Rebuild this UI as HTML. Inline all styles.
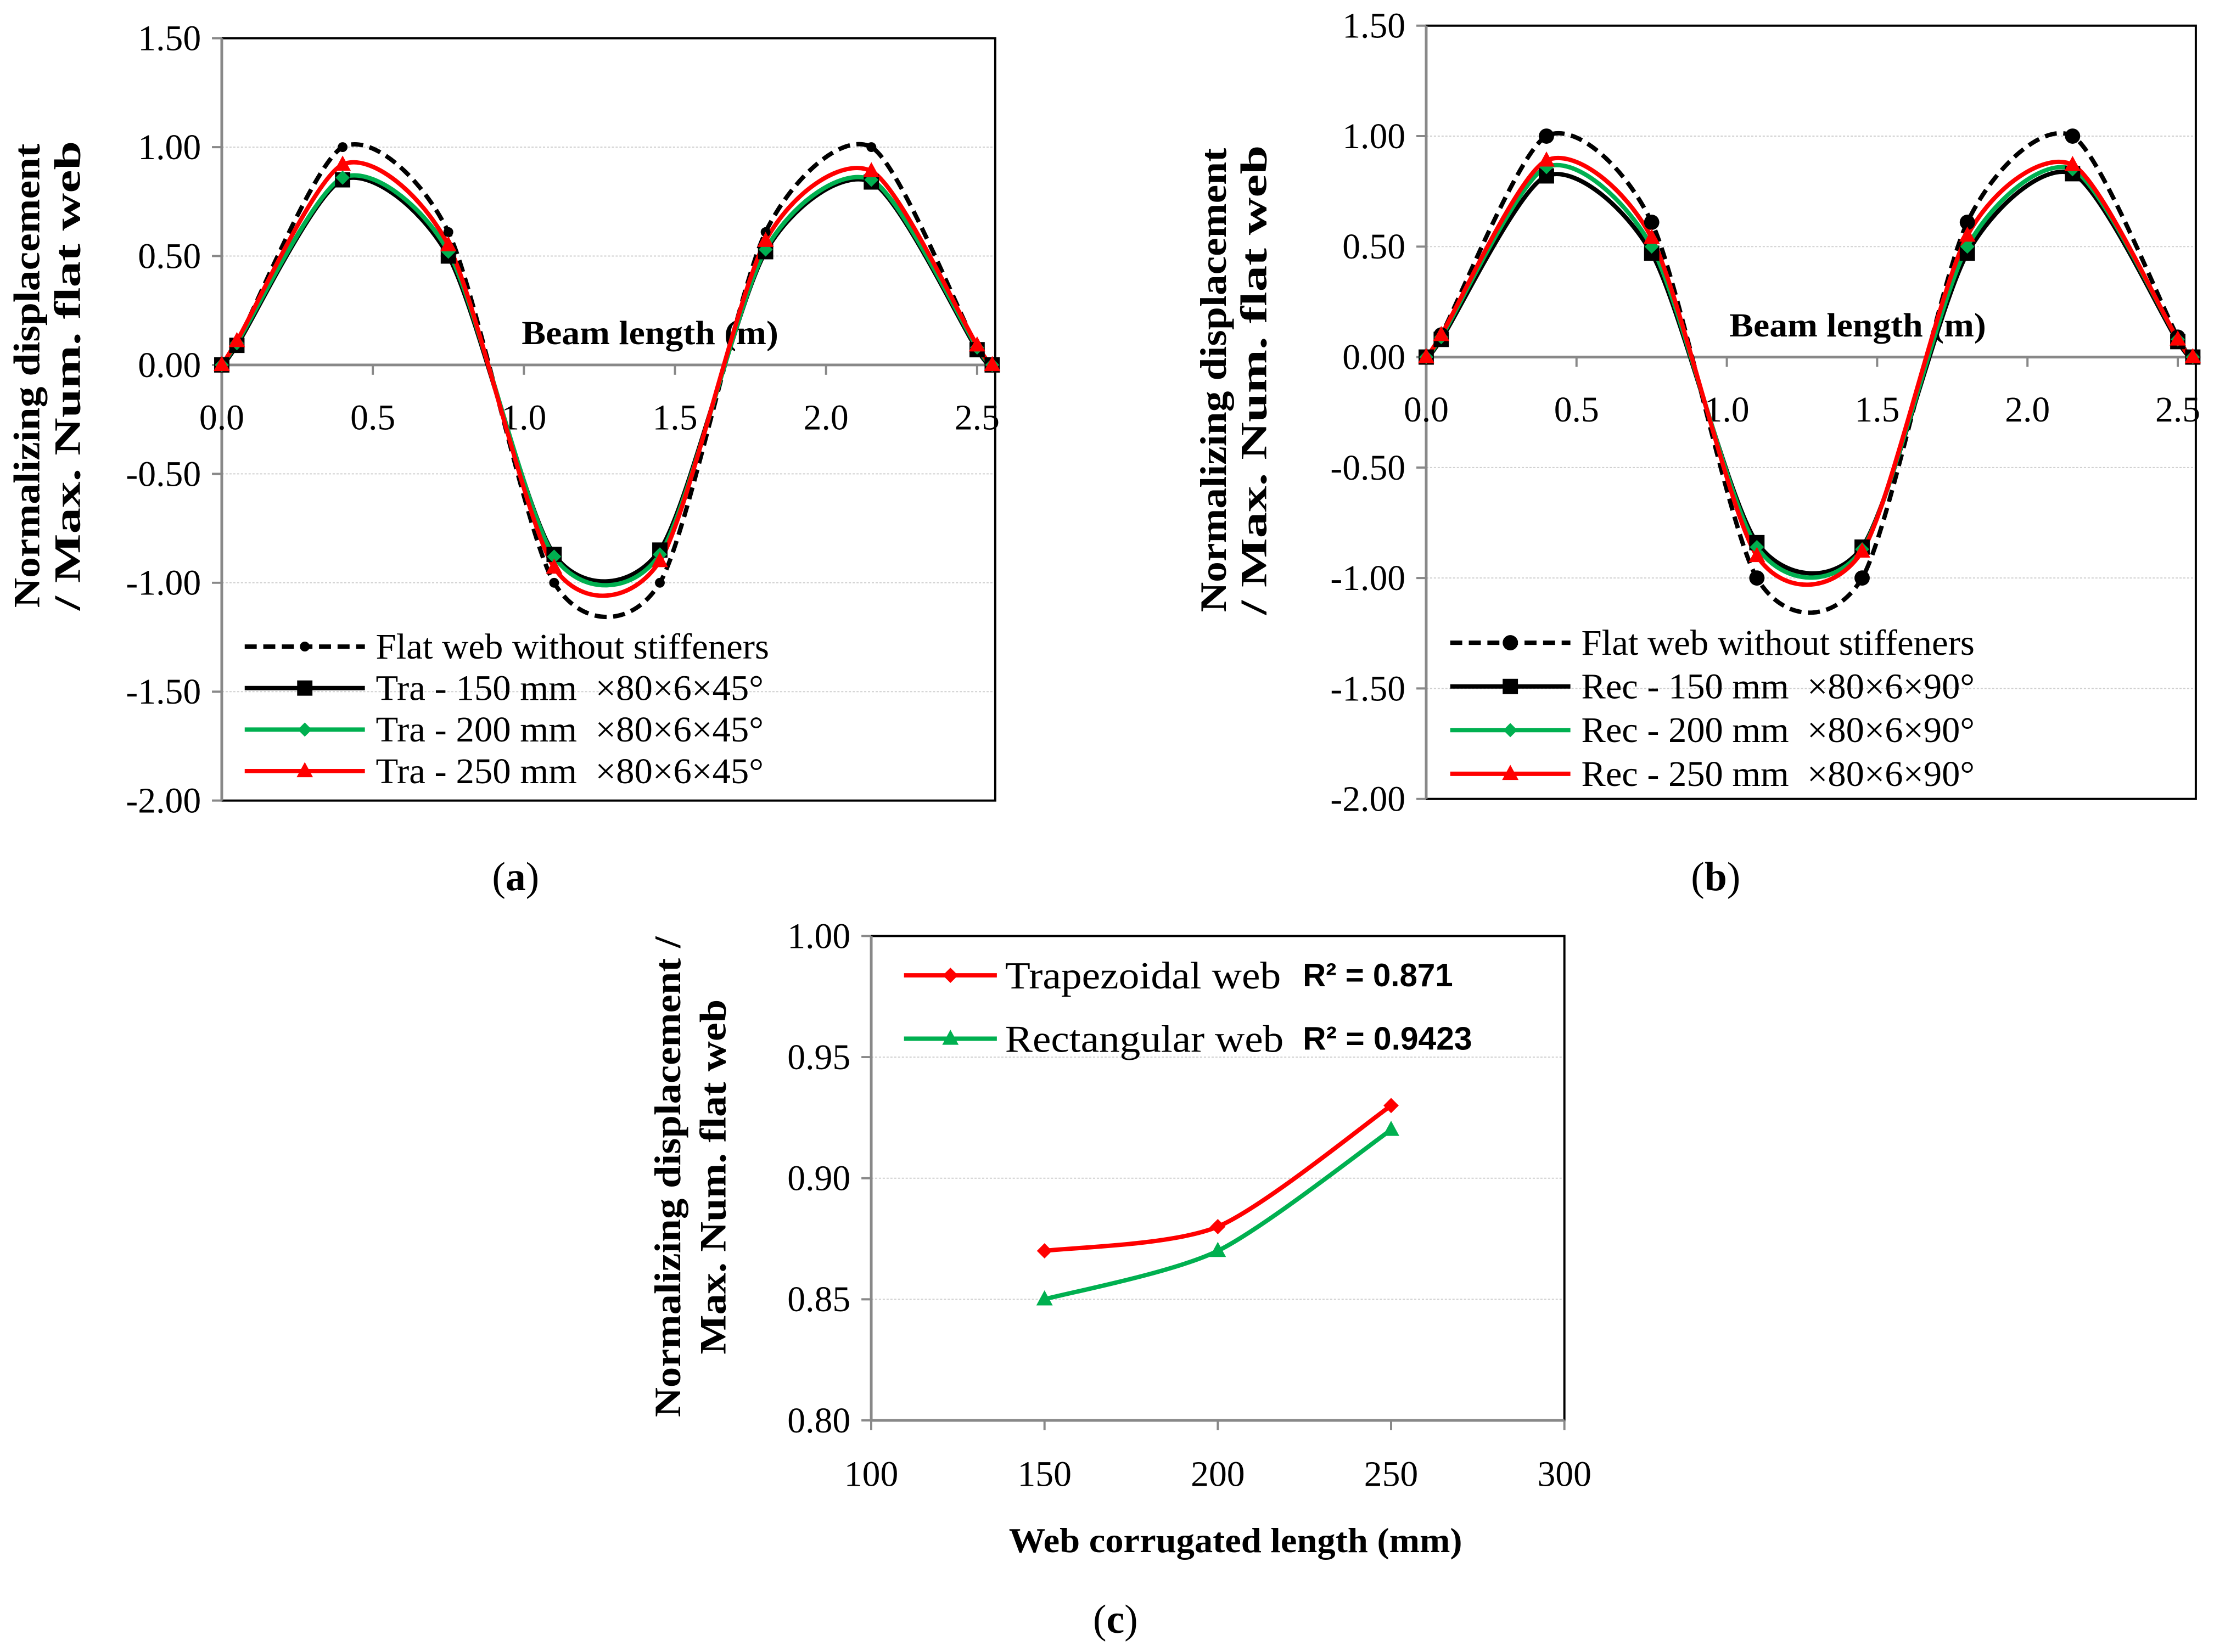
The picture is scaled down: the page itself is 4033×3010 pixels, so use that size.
<!DOCTYPE html>
<html><head><meta charset="utf-8"><style>
html,body{margin:0;padding:0;background:#fff}
svg{display:block}
text{font-family:"Liberation Serif",serif;fill:#000;white-space:pre}
.b{font-weight:bold}
</style></head><body>
<svg id="svg" width="4033" height="3010" viewBox="0 0 4033 3010" xmlns="http://www.w3.org/2000/svg"><g id="root" transform="scale(0.995)"></g></svg>
<script>
// ---- Data ----
const beamX = [0, 0.05, 0.4, 0.75, 1.1, 1.45, 1.8, 2.15, 2.5, 2.55];
const flatA = [0, 0.10, 1.00, 0.61, -1.00, -1.00, 0.61, 1.00, 0.08, 0];
const tra150 = [0, 0.09, 0.85, 0.50, -0.87, -0.85, 0.52, 0.84, 0.07, 0];
const tra200 = [0, 0.10, 0.86, 0.52, -0.88, -0.87, 0.53, 0.85, 0.08, 0];
const tra250 = [0, 0.11, 0.92, 0.55, -0.93, -0.90, 0.57, 0.89, 0.09, 0];
const flatB = [0, 0.10, 1.00, 0.61, -1.00, -1.00, 0.61, 1.00, 0.09, 0];
const rec150 = [0, 0.08, 0.82, 0.47, -0.84, -0.86, 0.47, 0.83, 0.07, 0];
const rec200 = [0, 0.09, 0.86, 0.50, -0.86, -0.87, 0.50, 0.85, 0.08, 0];
const rec250 = [0, 0.10, 0.89, 0.54, -0.90, -0.88, 0.55, 0.87, 0.08, 0];
const sineYTicks = [1.5, 1.0, 0.5, 0, -0.5, -1.0, -1.5, -2.0];
const sineXTicks = [0, 0.5, 1.0, 1.5, 2.0, 2.5];
const lenX = [150, 200, 250];
const trapVals = [0.87, 0.88, 0.93];
const rectVals = [0.85, 0.87, 0.92];
const cYTicks = [1.00, 0.95, 0.90, 0.85, 0.80];
const cXTicks = [100, 150, 200, 250, 300];

const NS = "http://www.w3.org/2000/svg";
const root = document.getElementById('root');
function mk(tag, attrs, parent, txt){
  const e = document.createElementNS(NS, tag);
  for (const k in attrs) e.setAttribute(k, attrs[k]);
  if (txt !== undefined) e.textContent = txt;
  (parent || root).appendChild(e);
  return e;
}
const K = 0.13;
function smoothPath(pts){
  let d = 'M' + pts[0][0] + ',' + pts[0][1];
  for (let i = 0; i < pts.length - 1; i++){
    const p0 = pts[Math.max(0, i-1)], p1 = pts[i], p2 = pts[i+1], p3 = pts[Math.min(pts.length-1, i+2)];
    const c1x = p1[0] + (p2[0]-p0[0])*K, c1y = p1[1] + (p2[1]-p0[1])*K;
    const c2x = p2[0] - (p3[0]-p1[0])*K, c2y = p2[1] - (p3[1]-p1[1])*K;
    d += ' C' + c1x + ',' + c1y + ' ' + c2x + ',' + c2y + ' ' + p2[0] + ',' + p2[1];
  }
  return d;
}
function marker(g, type, x, y, color, s){
  let e;
  if (type === 'circle') e = mk('circle', {cx:x, cy:y, r:s, fill:color}, g);
  else if (type === 'square') e = mk('rect', {x:x-s, y:y-s, width:2*s, height:2*s, fill:color}, g);
  else if (type === 'diamond') e = mk('polygon', {points:`${x},${y-s} ${x+s},${y} ${x},${y+s} ${x-s},${y}`, fill:color}, g);
  else e = mk('polygon', {points:`${x},${y-s*1.1} ${x+s},${y+s*0.75} ${x-s},${y+s*0.75}`, fill:color}, g);
  
  
}

function sineChart(o){
  const g = mk('g', {});  
  const xS = v => o.L + (v - 0) * (o.R - o.L) / (o.xmax - 0);
  const yS = v => o.T + (1.5 - v) * (o.B - o.T) / 3.5;
  sineYTicks.forEach(t => {
    if (t === 0 || t === 1.5 || t === -2) return;
    const l = mk('line', {x1:o.L, x2:o.R, y1:yS(t), y2:yS(t), stroke:'#cfcfcf', 'stroke-width':2, 'stroke-dasharray':'4,3'}, g);
     
  });
  mk('rect', {x:o.L, y:o.T, width:o.R-o.L, height:o.B-o.T, fill:'none', stroke:'#000', 'stroke-width':4}, g);
  mk('line', {x1:o.L, x2:o.L, y1:o.T, y2:o.B, stroke:'#888', 'stroke-width':5}, g);
  mk('line', {x1:o.L, x2:o.R, y1:yS(0), y2:yS(0), stroke:'#888', 'stroke-width':5}, g);
  sineYTicks.forEach(t => {
    mk('line', {x1:o.L-18, x2:o.L, y1:yS(t), y2:yS(t), stroke:'#888', 'stroke-width':4}, g);
    const tx = mk('text', {x:o.L-38, y:yS(t)+22, 'font-size':66, 'text-anchor':'end'}, g, t.toFixed(2));
     
  });
  sineXTicks.forEach(t => {
    mk('line', {x1:xS(t), x2:xS(t), y1:yS(0), y2:yS(0)+18, stroke:'#888', 'stroke-width':4}, g);
    const tx = mk('text', {x:xS(t), y:yS(0)+118, 'font-size':66, 'text-anchor':'middle'}, g, t.toFixed(1));
     
  });
  const xt = mk('text', {x:o.btx, y:yS(0)-38, 'font-size':62, class:'b', textLength:470, lengthAdjust:'spacingAndGlyphs'}, g, 'Beam length (m)');
   
  const cy = o.tcy;
  const yt = mk('text', {transform:`translate(${o.ytx},${cy}) rotate(-90)`, 'font-size':68, class:'b', 'text-anchor':'middle', textLength:850, lengthAdjust:'spacingAndGlyphs'}, g, 'Normalizing displacement');
   
  const yt2 = mk('text', {transform:`translate(${o.ytx+74},${cy}) rotate(-90)`, 'font-size':68, class:'b', 'text-anchor':'middle', textLength:860, lengthAdjust:'spacingAndGlyphs'}, g, '/ Max. Num. flat web');
   
  o.series.forEach(s => {
    const pts = beamX.map((x, i) => [xS(x), yS(s.vals[i])]);
    const p = mk('path', {d:smoothPath(pts), fill:'none', stroke:s.color, 'stroke-width':8, 'stroke-dasharray':s.dash || 'none'}, g);
     
  });
  o.series.forEach(s => {
    beamX.forEach((x, i) => marker(g, s.mk, xS(x), yS(s.vals[i]), s.color, s.ms));
  });
  o.series.forEach((s, i) => {
    const ly = o.legY + i * o.legDy;
    const lg = mk('g', {}, g);  
    mk('line', {x1:o.legX, x2:o.legX+220, y1:ly, y2:ly, stroke:s.color, 'stroke-width':8, 'stroke-dasharray':s.dash || 'none'}, lg);
    marker(lg, s.mk, o.legX+110, ly, s.color, s.ms);
    mk('text', {x:o.legX+240, y:ly+22, 'font-size':66, textLength:s.tl, lengthAdjust:'spacingAndGlyphs'}, lg, s.label);
  });
  const cap = mk('text', {x:o.capX, y:1630, 'font-size':74, 'text-anchor':'middle'}, g);
   
  cap.innerHTML = '(<tspan class="b">' + o.cap + '</tspan>)';
}

sineChart({name:'chart-a', L:406, R:1822, T:70, B:1466, xmax:2.56, btx:955, ytx:72, tcy:688, legX:448, legY:1184, legDy:76, capX:944, cap:'a',
  series:[
    {id:'flat', vals:flatA, color:'#000', dash:'22,12', mk:'circle', ms:9, label:'Flat web without stiffeners', tl:720},
    {id:'tra150', vals:tra150, color:'#000', mk:'square', ms:14, label:'Tra - 150 mm\u00a0\u00a0×80×6×45°', tl:710},
    {id:'tra200', vals:tra200, color:'#00b050', mk:'diamond', ms:13, label:'Tra - 200 mm\u00a0\u00a0×80×6×45°', tl:710},
    {id:'tra250', vals:tra250, color:'#ff0000', mk:'triangle', ms:15, label:'Tra - 250 mm\u00a0\u00a0×80×6×45°', tl:710}
  ]});
sineChart({name:'chart-b', L:2611, R:4020, T:47, B:1463, xmax:2.56, btx:3166, ytx:2244, tcy:696, legX:2655, legY:1177, legDy:80, capX:3141, cap:'b',
  series:[
    {id:'flat', vals:flatB, color:'#000', dash:'22,12', mk:'circle', ms:14, label:'Flat web without stiffeners', tl:720},
    {id:'rec150', vals:rec150, color:'#000', mk:'square', ms:14, label:'Rec - 150 mm\u00a0\u00a0×80×6×90°', tl:720},
    {id:'rec200', vals:rec200, color:'#00b050', mk:'diamond', ms:13, label:'Rec - 200 mm\u00a0\u00a0×80×6×90°', tl:720},
    {id:'rec250', vals:rec250, color:'#ff0000', mk:'triangle', ms:15, label:'Rec - 250 mm\u00a0\u00a0×80×6×90°', tl:720}
  ]});

(function(){
  const L = 1595, R = 2864, T = 1714, B = 2601;
  const g = mk('g', {});  
  const xS = v => L + (v - 100) * (R - L) / 200;
  const yS = v => T + (1.0 - v) * (B - T) / 0.2;
  cYTicks.forEach(t => {
    if (t === 1.0 || t === 0.8) return;
    mk('line', {x1:L, x2:R, y1:yS(t), y2:yS(t), stroke:'#cfcfcf', 'stroke-width':2, 'stroke-dasharray':'4,3'}, g);
  });
  mk('rect', {x:L, y:T, width:R-L, height:B-T, fill:'none', stroke:'#000', 'stroke-width':4}, g);
  mk('line', {x1:L, x2:L, y1:T, y2:B, stroke:'#888', 'stroke-width':5}, g);
  mk('line', {x1:L, x2:R, y1:B, y2:B, stroke:'#888', 'stroke-width':5}, g);
  cYTicks.forEach(t => {
    mk('line', {x1:L-18, x2:L, y1:yS(t), y2:yS(t), stroke:'#888', 'stroke-width':4}, g);
    const tx = mk('text', {x:L-38, y:yS(t)+22, 'font-size':66, 'text-anchor':'end'}, g, t.toFixed(2));
     
  });
  cXTicks.forEach(t => {
    mk('line', {x1:xS(t), x2:xS(t), y1:B, y2:B+18, stroke:'#888', 'stroke-width':4}, g);
    const tx = mk('text', {x:xS(t), y:B+120, 'font-size':66, 'text-anchor':'middle'}, g, String(t));
     
  });
  const xt = mk('text', {x:2262, y:2842, 'font-size':64, class:'b', 'text-anchor':'middle', textLength:830, lengthAdjust:'spacingAndGlyphs'}, g, 'Web corrugated length (mm)');
   
  const yt = mk('text', {transform:'translate(1245,2155) rotate(-90)', 'font-size':68, class:'b', 'text-anchor':'middle', textLength:880, lengthAdjust:'spacingAndGlyphs'}, g, 'Normalizing displacement /');
   
  const yt2 = mk('text', {transform:'translate(1328,2155) rotate(-90)', 'font-size':68, class:'b', 'text-anchor':'middle', textLength:650, lengthAdjust:'spacingAndGlyphs'}, g, 'Max. Num. flat web');
   
  const ser = [
    {id:'trapezoidal', vals:trapVals, color:'#ff0000', mk:'diamond', ms:14, label:'Trapezoidal web', r2:'R² = 0.871', tl:505},
    {id:'rectangular', vals:rectVals, color:'#00b050', mk:'triangle', ms:15, label:'Rectangular web', r2:'R² = 0.9423', tl:510}
  ];
  ser.forEach(s => {
    const pts = lenX.map((x, i) => [xS(x), yS(s.vals[i])]);
    const p = mk('path', {d:smoothPath(pts), fill:'none', stroke:s.color, 'stroke-width':8}, g);
     
    lenX.forEach((x, i) => marker(g, s.mk, xS(x), yS(s.vals[i]), s.color, s.ms));
  });
  ser.forEach((s, i) => {
    const ly = 1786 + i * 116;
    const lg = mk('g', {}, g);  
    mk('line', {x1:1655, x2:1825, y1:ly, y2:ly, stroke:s.color, 'stroke-width':8}, lg);
    marker(lg, s.mk, 1740, ly, s.color, s.ms);
    mk('text', {x:1840, y:ly+24, 'font-size':70, textLength:s.tl, lengthAdjust:'spacingAndGlyphs'}, lg, s.label);
    mk('text', {x:2385, y:ly+20, 'font-size':60, 'font-weight':'bold', style:'font-family:"Liberation Sans",sans-serif', textLength:(i?310:275), lengthAdjust:'spacingAndGlyphs'}, lg, s.r2);
  });
  const cap = mk('text', {x:2042, y:2990, 'font-size':74, 'text-anchor':'middle'}, g);
   
  cap.innerHTML = '(<tspan class="b">c</tspan>)';
})();
</script>
</body></html>
